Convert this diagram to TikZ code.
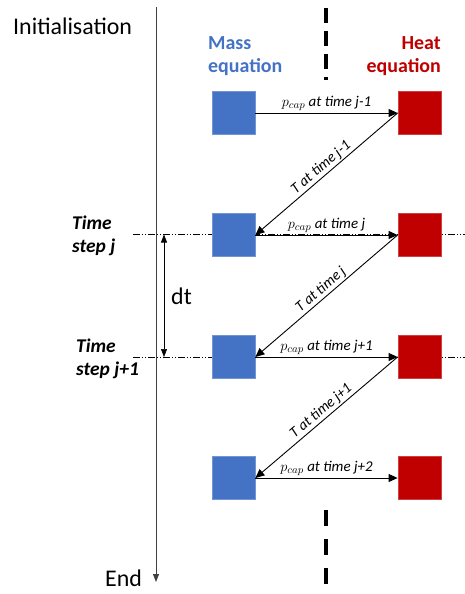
\documentclass[tikz,border=0pt]{standalone}
\usepackage{fontspec}
\setmainfont{Carlito}
\usetikzlibrary{arrows.meta}
\definecolor{massblue}{HTML}{4472C4}
\definecolor{heatred}{HTML}{C00000}

\tikzset{
  massbox/.style={fill=massblue, draw=massblue!75!white, line width=0.8bp, minimum size=43bp, inner sep=0pt},
  heatbox/.style={fill=heatred, draw=heatred!75!white, line width=0.8bp, minimum size=43bp, inner sep=0pt},
  flow/.style={-{Triangle[length=9bp,width=8bp]}, line width=0.9bp},
  flowlabel/.style={font=\fontsize{15}{17}\selectfont\itshape, inner sep=1.5bp},
  steplabel/.style={font=\fontsize{19.5}{23}\selectfont\bfseries\itshape, align=left, anchor=base west, inner sep=0pt},
  biglabel/.style={font=\fontsize{24}{28}\selectfont, inner sep=0pt},
  timestep/.style={line width=0.5bp, dash pattern=on 7bp off 2bp on 1bp off 2bp on 1bp off 2bp},
}

\begin{document}
\begin{tikzpicture}[x=1bp,y=-1bp]
\useasboundingbox (0,0) rectangle (465,594);

% time step lines behind the boxes
\draw[timestep] (133,234.5) -- (465,234.5);
\draw[timestep] (133,357) -- (465,357);

% boxes
\foreach \n/\y in {1/113, 2/235, 3/357, 4/478} {
  \node[massbox] (m\n) at (233.5,\y) {};
  \node[heatbox] (h\n) at (419.5,\y) {};
}

% headers
\node[anchor=base west, align=left, text=massblue, font=\fontsize{20}{24}\selectfont\bfseries, inner sep=0pt] (mass) at (208,73) {Mass\\equation};
\node[anchor=base east, align=right, text=heatred, font=\fontsize{20}{24}\selectfont\bfseries, inner sep=0pt] (heat) at (441,73) {Heat\\equation};

% separator
\draw[line width=4bp, dash pattern=on 15bp off 8bp] (326,8) -- (326,80);
\draw[line width=4bp, dash pattern=on 16bp off 13bp] (326,510) -- (326,592);

% time line
\node[biglabel, anchor=base west] (init) at (13,35) {Initialisation};
\node[biglabel, anchor=base west] (end) at (105,586) {End};
\coordinate (tlTop) at (156,7);
\coordinate (tlEnd) at (156,582);
\draw[draw=black!75, line width=0.8bp, -{Triangle[length=8bp,width=6bp]}] (tlTop) -- (tlEnd);

\node[steplabel] (stepj) at (72,252) {Time\\step j};
\node[steplabel] (stepjj) at (76,375) {Time\\step j+1};

% dt
\coordinate (dtTop) at (164,234.5);
\coordinate (dtBot) at (164,357);
\draw[line width=0.6bp, {Triangle[length=8bp,width=6bp]}-{Triangle[length=8bp,width=6bp]}] (dtTop) -- (dtBot);
\node[biglabel, anchor=west] (dt) at (171,296) {dt};

% exchanges
\draw[flow] (m1.east) -- node[flowlabel, above] {$p_{cap}$ at time j-1} (h1.west);
\draw[flow] (h1.west) -- node[flowlabel, above, sloped] {T at time j-1} (m2.east);
\draw[flow] (m2.east) -- node[flowlabel, above] {$p_{cap}$ at time j} (h2.west);
\draw[flow] (h2.west) -- node[flowlabel, above, sloped] {T at time j} (m3.east);
\draw[flow] (m3.east) -- node[flowlabel, above] {$p_{cap}$ at time j+1} (h3.west);
\draw[flow] (h3.west) -- node[flowlabel, above, sloped] {T at time j+1} (m4.east);
\draw[flow] (m4.east) -- node[flowlabel, above] {$p_{cap}$ at time j+2} (h4.west);
\end{tikzpicture}
\end{document}
